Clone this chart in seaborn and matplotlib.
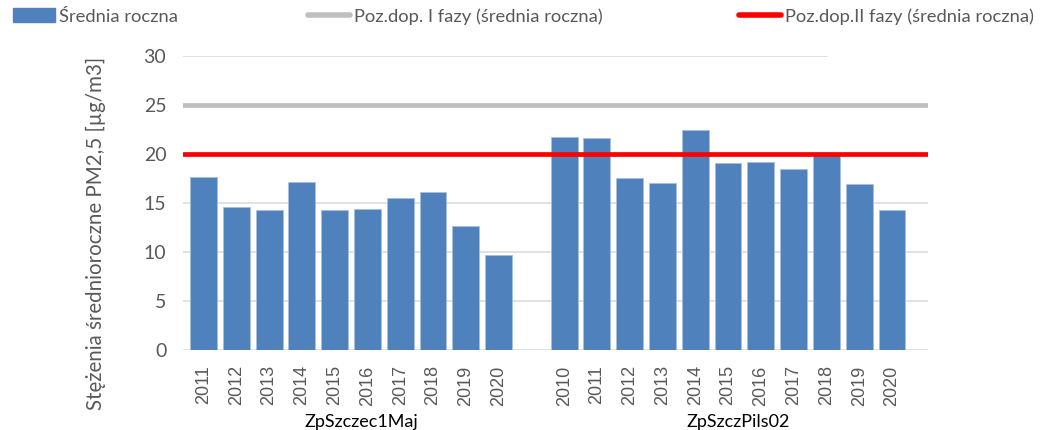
import matplotlib
matplotlib.use("Agg")
import matplotlib.pyplot as plt
from matplotlib.patches import Patch
from matplotlib.lines import Line2D
import numpy as np
import pandas as pd
import seaborn as sns

# data
stations = ["ZpSzczec1Maj", "ZpSzczPils02"]
years_maj = [2011, 2012, 2013, 2014, 2015, 2016, 2017, 2018, 2019, 2020]
values_maj = [17.6, 14.6, 14.3, 17.1, 14.3, 14.4, 15.5, 16.1, 12.6, 9.7]
years_pils = [2010, 2011, 2012, 2013, 2014, 2015, 2016, 2017, 2018, 2019, 2020]
values_pils = [21.7, 21.6, 17.5, 17.0, 22.4, 19.1, 19.2, 18.4, 19.9, 16.9, 14.3]
limit_phase1 = 25
limit_phase2 = 20

BAR = "#4F81BD"
GREY_LINE = "#BFBFBF"
RED = "#FF0000"
TEXT = "#595959"

rows = []
for st, yrs, vals in [(stations[0], years_maj, values_maj), (stations[1], years_pils, values_pils)]:
    for y, v in zip(yrs, vals):
        rows.append({"key": f"{st} {y}", "station": st, "year": str(y), "value": v})
df = pd.DataFrame(rows)

# one empty slot between the stations
order = [f"{stations[0]} {y}" for y in years_maj] + ["gap"] + [f"{stations[1]} {y}" for y in years_pils]
tick_text = [str(y) for y in years_maj] + [""] + [str(y) for y in years_pils]

sns.set_style("white")
plt.rcParams["font.family"] = ["Lato", "DejaVu Sans"]

fig = plt.figure(figsize=(10.4, 4.3), dpi=100)
ax = fig.add_axes([0.176, 0.186, 0.716, 0.6845])

sns.barplot(data=df, x="key", y="value", order=order, color=BAR, width=0.82,
            saturation=1, edgecolor="#A7BFDE", linewidth=0.6, ax=ax, zorder=3)

ax.set_ylim(0, 30)
ax.set_xlim(-0.625, 22.09)
ax.set_yticks(np.arange(0, 31, 5))
for t in np.arange(0, 31, 5):
    ax.axhline(t, color="#D9D9D9", lw=1.1, zorder=1, xmax=0.865 if t == 30 else 1)

ax.axhline(limit_phase1, color=GREY_LINE, lw=3.4, zorder=4)
ax.axhline(limit_phase2, color=RED, lw=3.4, zorder=4)

ax.set_xticks(range(len(order)))
ax.set_xticklabels(tick_text, rotation=90, fontsize=13, color=TEXT, family=["Liberation Sans", "DejaVu Sans"])
ax.tick_params(axis="y", labelsize=14, colors=TEXT, length=0, pad=12)
ax.tick_params(axis="x", length=0, pad=11)
for s in ax.spines.values():
    s.set_visible(False)

ax.set_xlabel("")
ax.set_ylabel("Stężenia średnioroczne PM2,5 [µg/m3]", fontsize=14.8, color=TEXT)
ax.yaxis.set_label_coords(-0.103, 0.396)

# station names under the years
for st, start, n in [(stations[0], 0, len(years_maj)), (stations[1], len(years_maj) + 1, len(years_pils))]:
    xc = start + (n - 1) / 2 + 0.3
    ax.text(xc, -0.218, st, transform=ax.get_xaxis_transform(), ha="center", va="top",
            fontsize=13, color="#000000")

# legend entries placed one by one, as in the reference
entries = [
    (Patch(facecolor=BAR, edgecolor=BAR), "Średnia roczna", 13),
    (Line2D([], [], color=GREY_LINE, lw=4, solid_capstyle="round"), "Poz.dop. I fazy (średnia roczna)", 308),
    (Line2D([], [], color=RED, lw=4, solid_capstyle="round"), "Poz.dop.II fazy (średnia roczna)", 739),
]
for handle, label, xpix in entries:
    leg = fig.legend([handle], [label], loc="upper left", bbox_to_anchor=(xpix / 1040, 0.981),
                     frameon=False, fontsize=13.2, handlelength=2.3, handletextpad=0.2,
                     handleheight=0.8, borderpad=0, borderaxespad=0)
    for txt in leg.get_texts():
        txt.set_color(TEXT)

fig.savefig("out.png", dpi=100)
